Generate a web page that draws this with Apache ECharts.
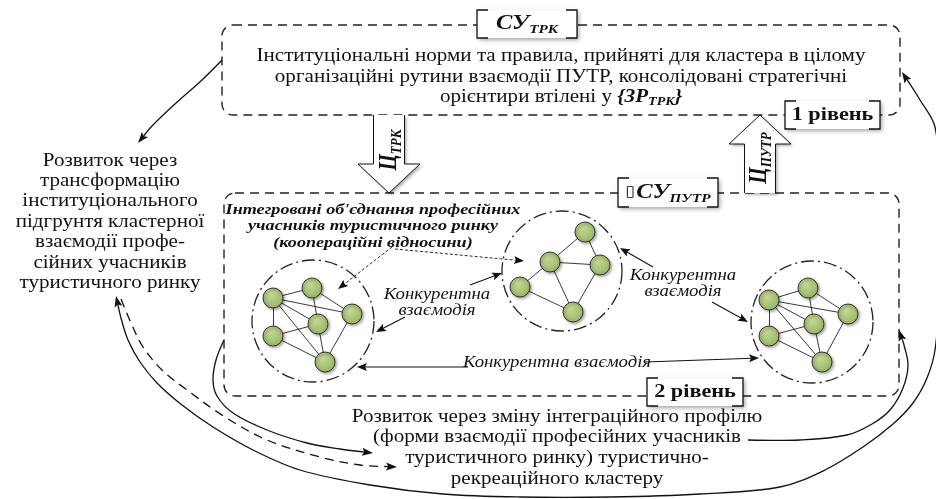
<!DOCTYPE html>
<html>
<head>
    <meta charset="utf-8">
    <title>Кластер</title>
    <script src="https://cdn.jsdelivr.net/npm/echarts@6/dist/echarts.min.js"></script>
</head>
<body style="margin:0;background:#fff">
    <div id="main" style="width:936px;height:499px;"></div>
    <script type="text/javascript">
        var SERIF = '"Liberation Serif", "Times New Roman", serif';
        var SX = 1.17; // the scan is a little wider than tall

        // level frames: x0, y0, x1, y1
        var frames = [[222, 25, 900, 115], [224, 193, 899, 396]];
        // dash-dot rings round the groups: cx, cy, r
        var rings = [[313, 321, 61], [562, 271, 60], [812, 322, 61]];
        // participants
        var leftNodes = [[273, 298], [312, 288], [352, 314], [318, 324], [273, 336], [325, 362]];
        var midNodes = [[585, 232], [550, 262], [600, 265], [520, 287], [573, 312]];
        var rightNodes = [[769, 300], [808, 288], [848, 314], [814, 324], [769, 336], [822, 362]];
        var hexLinks = [[0, 1], [0, 2], [0, 3], [0, 4], [0, 5], [1, 2], [1, 3], [2, 5], [3, 4], [3, 5], [4, 5]];
        var midLinks = [[3, 1], [1, 0], [0, 2], [1, 2], [1, 4], [3, 4], [2, 4]];

        var topLines = [
            '{r|Інституціональні норми та правила, прийняті для кластера в цілому}',
            '{r|організаційні рутини взаємодії ПУТР, консолідовані стратегічні}',
            '{r|орієнтири втілені у }{bi|{ЗР}{bs|ТРК}}'
        ];
        var leftLines = ['Розвиток через', 'трансформацію', 'інституціонального', 'підгрунтя кластерної',
            'взаємодії профе-', 'сійних учасників', 'туристичного ринку'];
        var bottomLines = ['Розвиток через зміну інтеграційного профілю', '(форми взаємодії професійних учасників',
            'туристичного ринку) туристично-', 'рекреаційного кластеру'];
        var groupTitle = ['Інтегровані об\'єднання професійних', 'учасників туристичного ринку', '(коопераційні відносини)'];
        var rivalTexts = ['Конкурентна\nвзаємодія', 'Конкурентна\nвзаємодія', 'Конкурентна взаємодія'];
        var rivalAt = [[437, 303], [683, 284], [557, 363]];
        var blockAt = {top: [561, 77], left: [110, 222], bottom: [557, 448], title: [373, 226]};

        var tagTexts = ['{m|СУ}{s|ТРК}', '{b|1 рівень}', '{q|▯}{m|СУ}{s|ПУТР}', '{b|2 рівень}'];
        var tagBoxes = [[477, 10, 577, 38], [785, 101, 880, 129], [618, 178, 718, 207], [647, 378, 743, 406]];

        // hollow flow arrows: x, from y, to y
        var flows = [[389, 115, 193], [760, 193, 115]];
        var flowTexts = ['{m|Ц}{s|ТРК}', '{m|Ц}{s|ПУТР}'];
        var flowTextAt = [[390, 150], [760, 158]];

        // straight pointers: from, to, dotted
        var pointers = [
            [[392, 247], [338, 289], 1], [[395, 249], [524, 261], 1],
            [[470, 285], [502, 273], 0], [[405, 317], [376, 332], 0],
            [[653, 267], [620, 248], 0], [[712, 302], [748, 322], 0],
            [[468, 367], [357, 367], 0], [[645, 362], [759, 358], 0]
        ];

        // development loops
        var loops = [
            [[222, 60], [202, 80], [175, 104], [152, 126], [138, 143]],
            [[116, 296], [121, 318], [128, 340], [140, 362], [157, 383], [182, 405], [213, 427], [255, 451],
             [300, 470], [370, 485], [443, 494], [520, 497], [610, 497], [700, 494], [780, 487], [825, 470],
             [863, 447], [893, 424], [913, 403], [927, 378], [935, 350], [939, 300], [940, 240], [939, 180],
             [935, 127], [920, 100], [902, 72]],
            [[121, 299], [131, 323], [143, 347], [162, 370], [187, 390], [225, 417], [267, 440], [320, 457],
             [360, 465], [397, 467]],
            [[224, 340], [216, 360], [213, 380], [217, 396], [233, 413], [267, 430], [307, 443], [340, 449], [373, 453]],
            [[748, 440], [800, 440], [847, 435], [872, 424], [890, 410], [903, 388], [908, 365], [904, 345], [899, 330]]
        ];
        var loopDashed = [false, false, true, false, false];
        var loopHeads = [[false, true], [true, true], [false, true], [false, true], [false, true]];

        var chartDom = document.getElementById('main');
        var myChart = echarts.init(chartDom);
        var option;

        function head(tip, from, len, half) {
            var dx = tip[0] - from[0], dy = tip[1] - from[1];
            var d = Math.sqrt(dx * dx + dy * dy) || 1;
            dx /= d; dy /= d;
            var bx = tip[0] - dx * len, by = tip[1] - dy * len;
            return {
                type: 'polygon',
                shape: {points: [tip, [bx - dy * half, by + dx * half],
                    [tip[0] - dx * len * 0.8, tip[1] - dy * len * 0.8], [bx + dy * half, by - dx * half]]},
                style: {fill: '#111', stroke: null}
            };
        }

        function trim(tip, from, len) {
            var dx = tip[0] - from[0], dy = tip[1] - from[1];
            var d = Math.sqrt(dx * dx + dy * dy) || 1;
            return [tip[0] - dx / d * len, tip[1] - dy / d * len];
        }

        function toPx(api, pts) {
            return pts.map(function (p) { return api.coord(p); });
        }

        var richStyles = {
            r: {fontFamily: SERIF, fontSize: 18, fontStyle: 'normal', fontWeight: 'normal', lineHeight: 20.5},
            bi: {fontFamily: SERIF, fontSize: 18, fontStyle: 'italic', fontWeight: 'bold', lineHeight: 20.5},
            bs: {fontFamily: SERIF, fontSize: 12, fontStyle: 'italic', fontWeight: 'bold', lineHeight: 12, verticalAlign: 'bottom'},
            m: {fontFamily: SERIF, fontSize: 21, fontStyle: 'italic', fontWeight: 'bold', lineHeight: 25},
            s: {fontFamily: SERIF, fontSize: 13, fontStyle: 'italic', fontWeight: 'bold', lineHeight: 13, verticalAlign: 'bottom'},
            q: {fontFamily: '"DejaVu Sans", sans-serif', fontSize: 15, fontStyle: 'italic', fontWeight: 'normal', lineHeight: 25, padding: [0, 1, 0, 0]},
            b: {fontFamily: SERIF, fontSize: 19, fontWeight: 'bold', lineHeight: 22}
        };

        function textEl(api, at, text, font, lineHeight, rich, rotation) {
            var p = api.coord(at);
            return {
                type: 'text', x: p[0], y: p[1], scaleX: rotation ? 1 : SX, scaleY: rotation ? SX : 1,
                rotation: rotation || 0,
                style: {
                    text: text, font: font, fill: '#111', lineHeight: lineHeight, rich: rich,
                    align: 'center', verticalAlign: 'middle', textAlign: 'center', textVerticalAlign: 'middle'
                }
            };
        }

        function blockSeries(name, lines, at, font, lineHeight, rich) {
            return {
                type: 'custom', name: name, z: 6, silent: true,
                data: [at],
                renderItem: function (params, api) {
                    return textEl(api, at, lines.join('\n'), font, lineHeight, rich);
                }
            };
        }

        var allNodes = leftNodes.concat(midNodes, rightNodes);
        var links = [];
        hexLinks.forEach(function (l) {
            links.push({coords: [leftNodes[l[0]], leftNodes[l[1]]]});
            links.push({coords: [rightNodes[l[0]], rightNodes[l[1]]]});
        });
        midLinks.forEach(function (l) {
            links.push({coords: [midNodes[l[0]], midNodes[l[1]]]});
        });

        option = {
            animation: false,
            backgroundColor: '#fff',
            grid: {left: 0, right: 0, top: 0, bottom: 0},
            xAxis: {type: 'value', min: 0, max: 936, show: false},
            yAxis: {type: 'value', min: 0, max: 499, inverse: true, show: false},
            series: [{
                type: 'custom', name: 'frames', z: 1, silent: true,
                data: frames,
                renderItem: function (params, api) {
                    var f = frames[params.dataIndex];
                    var a = api.coord([f[0], f[1]]), b = api.coord([f[2], f[3]]);
                    return {
                        type: 'rect',
                        shape: {x: a[0], y: a[1], width: b[0] - a[0], height: b[1] - a[1], r: 11},
                        style: {fill: 'none', stroke: '#222', lineWidth: 1.4, lineDash: [9, 6]}
                    };
                }
            }, {
                type: 'custom', name: 'rings', z: 2, silent: true,
                data: rings,
                renderItem: function (params, api) {
                    var c = rings[params.dataIndex];
                    var p = api.coord([c[0], c[1]]);
                    var r = api.size([c[2], 0])[0];
                    return {
                        type: 'circle', shape: {cx: p[0], cy: p[1], r: r},
                        style: {fill: 'none', stroke: '#222', lineWidth: 1.3, lineDash: [13, 4, 2, 4]}
                    };
                }
            }, {
                type: 'lines', name: 'links', coordinateSystem: 'cartesian2d', z: 3, silent: true,
                data: links,
                lineStyle: {color: '#222', width: 0.9, opacity: 1}
            }, {
                type: 'scatter', name: 'participants', z: 4, silent: true,
                data: allNodes,
                symbolSize: 20,
                itemStyle: {
                    color: {type: 'radial', x: 0.4, y: 0.35, r: 0.75,
                        colorStops: [{offset: 0, color: '#c4d79a'}, {offset: 1, color: '#93b057'}]},
                    borderColor: '#333', borderWidth: 1, opacity: 1,
                    shadowColor: 'rgba(0,0,0,0.35)', shadowBlur: 3, shadowOffsetX: 1.5, shadowOffsetY: 1.5
                }
            }, {
                type: 'custom', name: 'loops', z: 5, silent: true,
                data: loops.map(function (l) { return l[0]; }),
                renderItem: function (params, api) {
                    var i = params.dataIndex;
                    var pts = toPx(api, loops[i]);
                    var children = [];
                    var line = pts.slice();
                    var n = pts.length;
                    if (loopHeads[i][1]) {
                        line[n - 1] = trim(pts[n - 1], pts[n - 2], 8);
                        children.push(head(pts[n - 1], pts[n - 2], 11, 4));
                    }
                    if (loopHeads[i][0]) {
                        line[0] = trim(pts[0], pts[1], 8);
                        children.push(head(pts[0], pts[1], 11, 4));
                    }
                    children.unshift({
                        type: 'polyline', shape: {points: line, smooth: 0.35},
                        style: {fill: 'none', stroke: '#111', lineWidth: 1.3, lineDash: loopDashed[i] ? [9, 6] : null}
                    });
                    return {type: 'group', children: children};
                }
            }, {
                type: 'custom', name: 'pointers', z: 5, silent: true,
                data: pointers.map(function (p) { return p[0]; }),
                renderItem: function (params, api) {
                    var p = pointers[params.dataIndex];
                    var a = api.coord(p[0]), b = api.coord(p[1]);
                    return {
                        type: 'group',
                        children: [{
                            type: 'line',
                            shape: {x1: a[0], y1: a[1], x2: trim(b, a, 7)[0], y2: trim(b, a, 7)[1]},
                            style: {stroke: '#111', lineWidth: p[2] ? 0.9 : 1.1, lineDash: p[2] ? [3, 2] : null}
                        }, head(b, a, 10, 4)]
                    };
                }
            }, {
                type: 'custom', name: 'flows', z: 7, silent: true,
                data: flows.map(function (f) { return [f[0], f[1]]; }),
                renderItem: function (params, api) {
                    var f = flows[params.dataIndex];
                    var s = api.coord([f[0], f[1]]), t = api.coord([f[0], f[2]]);
                    var dir = t[1] > s[1] ? 1 : -1;
                    var c = s[0], sh = 15.5, hh = 31, hl = 29;
                    var base = t[1] - dir * hl;
                    var pts = [[c - sh, s[1]], [c - sh, base], [c - hh, base], [c, t[1]],
                        [c + hh, base], [c + sh, base], [c + sh, s[1]]];
                    var i = params.dataIndex;
                    return {
                        type: 'group',
                        children: [{
                            type: 'polygon', shape: {points: pts},
                            style: {fill: '#fff', stroke: null, shadowColor: 'rgba(0,0,0,0.3)', shadowBlur: 3, shadowOffsetX: 2, shadowOffsetY: 2}
                        }, {
                            type: 'polyline', shape: {points: pts},
                            style: {fill: 'none', stroke: '#111', lineWidth: 1}
                        }, textEl(api, flowTextAt[i], flowTexts[i], 'italic bold 21px ' + SERIF, 25, richStyles, Math.PI / 2)]
                    };
                }
            }, {
                type: 'custom', name: 'tags', z: 8, silent: true,
                data: tagBoxes,
                renderItem: function (params, api) {
                    var t = tagBoxes[params.dataIndex];
                    var a = api.coord([t[0], t[1]]), b = api.coord([t[2], t[3]]);
                    var st = 11;
                    return {
                        type: 'group',
                        children: [{
                            type: 'rect', shape: {x: a[0], y: a[1], width: b[0] - a[0], height: b[1] - a[1]},
                            style: {fill: '#fff', shadowColor: 'rgba(0,0,0,0.35)', shadowBlur: 4, shadowOffsetX: 2, shadowOffsetY: 2}
                        }, {
                            type: 'polyline', shape: {points: [[a[0] + st, a[1]], [a[0], a[1]], [a[0], b[1]], [a[0] + st, b[1]]]},
                            style: {fill: 'none', stroke: '#111', lineWidth: 1.3}
                        }, {
                            type: 'polyline', shape: {points: [[b[0] - st, a[1]], [b[0], a[1]], [b[0], b[1]], [b[0] - st, b[1]]]},
                            style: {fill: 'none', stroke: '#111', lineWidth: 1.3}
                        }, textEl(api, [(t[0] + t[2]) / 2, (t[1] + t[3]) / 2], tagTexts[params.dataIndex],
                            'bold 19px ' + SERIF, 22, richStyles)]
                    };
                }
            }, {
                type: 'custom', name: 'rival', z: 6, silent: true,
                data: rivalAt,
                renderItem: function (params, api) {
                    return textEl(api, rivalAt[params.dataIndex], rivalTexts[params.dataIndex], 'italic 16px ' + SERIF, 15.5);
                }
            },
                blockSeries('top', topLines, blockAt.top, 'italic bold 18px ' + SERIF, 20.5, richStyles),
                blockSeries('left', leftLines, blockAt.left, '18px ' + SERIF, 20.4),
                blockSeries('bottom', bottomLines, blockAt.bottom, '18px ' + SERIF, 20.7),
                blockSeries('title', groupTitle, blockAt.title, 'italic bold 15.5px ' + SERIF, 16.5)
            ]
        };

        option && myChart.setOption(option);
    </script>
</body>
</html>
